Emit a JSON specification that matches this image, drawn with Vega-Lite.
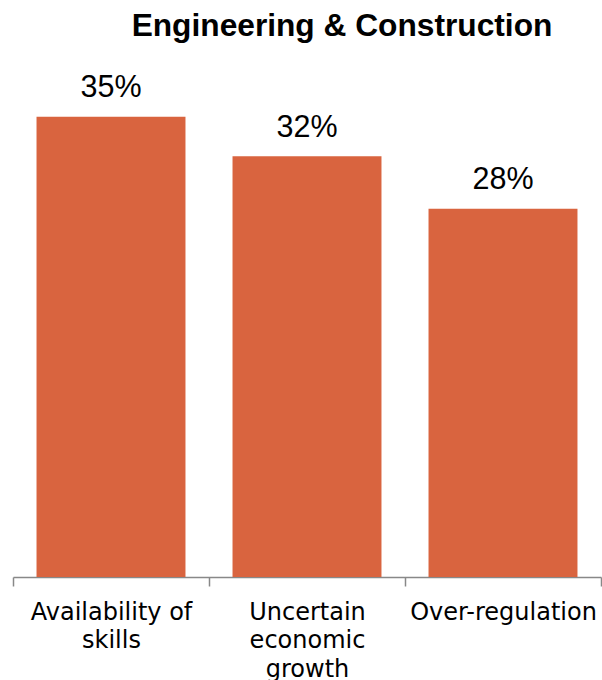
{
  "$schema": "https://vega.github.io/schema/vega-lite/v6.json",
  "width": 588,
  "height": 526,
  "autosize": "none",
  "padding": {"left": 13, "top": 51, "right": 1, "bottom": 103},
  "title": {
    "text": "Engineering & Construction",
    "font": "Liberation Sans",
    "fontSize": 31.7,
    "fontWeight": "bold",
    "color": "black",
    "anchor": "middle",
    "dx": 35,
    "dy": 31,
    "offset": 14,
    "baseline": "alphabetic"
  },
  "config": {"view": {"stroke": null}},
  "data": {
    "values": [
      {"factor": "Availability of skills", "share": 0.35},
      {"factor": "Uncertain economic growth", "share": 0.32},
      {"factor": "Over-regulation", "share": 0.28}
    ]
  },
  "encoding": {
    "x": {
      "field": "factor",
      "type": "nominal",
      "sort": null,
      "scale": {"paddingInner": 0, "paddingOuter": 0},
      "axis": {
        "title": null,
        "labelAngle": 0,
        "labelFont": "DejaVu Sans",
        "labelFontSize": 24,
        "labelColor": "black",
        "labelPadding": 14,
        "labelLineHeight": 28.5,
        "labelLimit": 400,
        "labelOverlap": false,
        "labelExpr": "datum.label == 'Availability of skills' ? ['Availability of', 'skills'] : datum.label == 'Uncertain economic growth' ? ['Uncertain', 'economic', 'growth'] : datum.label",
        "domainColor": "#888888",
        "domainWidth": 1.5,
        "tickColor": "#888888",
        "tickWidth": 1.5,
        "tickSize": 9,
        "tickBand": "extent"
      }
    },
    "y": {
      "field": "share",
      "type": "quantitative",
      "scale": {"domain": [0, 0.4]},
      "axis": null
    }
  },
  "layer": [
    {"mark": {"type": "bar", "color": "#D9643F", "width": {"band": 0.76}}},
    {
      "mark": {
        "type": "text",
        "font": "Liberation Sans",
        "fontSize": 30.5,
        "color": "black",
        "baseline": "alphabetic",
        "dy": -19.7
      },
      "encoding": {"text": {"field": "share", "type": "quantitative", "format": ".0%"}}
    }
  ]
}
